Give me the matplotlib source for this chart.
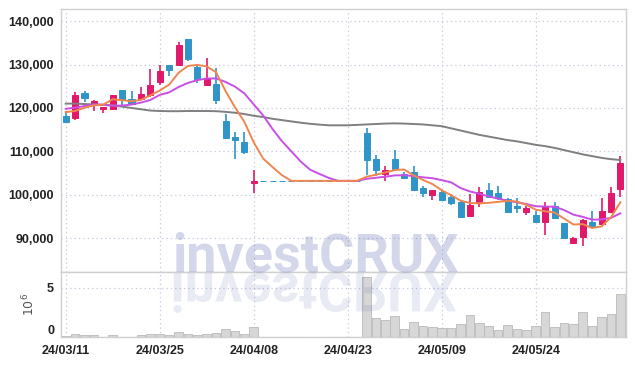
import numpy as np
import pandas as pd
import matplotlib
matplotlib.use("Agg")
import matplotlib.pyplot as plt
from matplotlib.textpath import TextPath
from matplotlib.patches import PathPatch
from matplotlib.font_manager import FontProperties
from matplotlib.transforms import Affine2D, IdentityTransform

# ---------------- data (KRW) ----------------
tick_pos = [0, 10, 20, 30, 40, 50]
tick_labels = ["24/03/11", "24/03/25", "24/04/08", "24/04/23", "24/05/09", "24/05/24"]

opens = [118100, 117600, 123500, 121100, 119800, 119800, 124100, 122100, 122100, 122900,
         126000, 129800, 129800, 135800, 129450, 125400, 125600, 117100, 113300, 112100,
         102700, 103200, 103200, 103200, 103200, 103200, 103200, 103200, 103200, 103200,
         103200, 103200, 114200, 108300, 104800, 108300, 104800, 105200, 101500, 100000,
         100600, 99400, 98300, 95200, 98300, 101000, 100450, 99050, 97500, 95960,
         95350, 93800, 97500, 93500, 88800, 90200, 93800, 93300, 96100, 101400]
highs = [119200, 123700, 123800, 121900, 120300, 123000, 124200, 123900, 124800, 128900,
         129800, 129900, 135300, 135900, 129900, 131400, 129200, 118700, 114400, 114500,
         105800, 103200, 103200, 103200, 103200, 103200, 103200, 103200, 103200, 103200,
         103200, 103200, 115400, 109050, 106700, 110400, 105300, 106700, 102000, 101200,
         101000, 100200, 98500, 100200, 101700, 102750, 102000, 99200, 99200, 97500,
         96350, 98300, 98300, 93600, 90200, 94400, 96350, 99200, 101700, 108900]
lows = [116600, 117200, 121400, 119400, 118800, 119700, 120400, 120900, 122000, 122600,
        125400, 127300, 129600, 130800, 125750, 125300, 121000, 113000, 108300, 109450,
        100400, 103200, 103200, 103200, 103200, 103200, 103200, 103200, 103200, 103200,
        103200, 103200, 104600, 104400, 103100, 105900, 103600, 101000, 99400, 98900,
        98600, 97700, 94700, 95000, 97100, 99300, 98800, 95800, 95800, 95350,
        93700, 90700, 94500, 89900, 88700, 88300, 92500, 93200, 96000, 99400]
closes = [116800, 122900, 122300, 121700, 120200, 122900, 121900, 121000, 123300, 125400,
          128450, 128700, 134600, 131200, 126600, 126800, 121900, 113050, 112500, 109800,
          103200, 103200, 103200, 103200, 103200, 103200, 103200, 103200, 103200, 103200,
          103200, 103200, 107900, 105600, 105800, 106000, 103800, 101100, 100400, 101100,
          98800, 98100, 94800, 97700, 100700, 99400, 99200, 95950, 96900, 97000,
          93800, 97300, 94600, 90000, 90050, 94200, 92900, 96350, 100450, 107400]
volumes_m = [0.10, 0.30, 0.20, 0.20, 0.05, 0.20, 0.05, 0.05, 0.20, 0.30,
             0.28, 0.20, 0.50, 0.30, 0.20, 0.30, 0.40, 0.78, 0.58, 0.32,
             0.98, 0, 0, 0, 0, 0, 0, 0, 0, 0,
             0, 0, 6.10, 1.90, 1.70, 2.10, 0.80, 1.58, 1.15, 0.97,
             0.96, 0.89, 1.31, 2.24, 1.39, 1.08, 0.69, 1.20, 0.80, 0.69,
             1.12, 2.50, 0.98, 1.39, 1.30, 2.50, 1.12, 2.00, 2.30, 4.35]
# closes before the first shown day (estimated from the MA lines)
prior_closes = [120400, 118500, 118000, 121000, 125000, 121600, 118600, 118900, 119300]
# long moving average (grey)
ma_long = [121000, 121000, 120900, 120800, 120700, 120600, 120300, 120000, 119700, 119400,
           119300, 119250, 119250, 119300, 119300, 119300, 119250, 119100, 118900, 118600,
           118200, 117900, 117500, 117200, 116900, 116600, 116350, 116150, 116000, 116000,
           116000, 116100, 116200, 116300, 116400, 116450, 116400, 116300, 116200, 116000,
           115800, 115300, 114800, 114300, 113800, 113400, 113000, 112600, 112300, 111900,
           111500, 111200, 110800, 110300, 109800, 109300, 108900, 108500, 108200, 108000]

# ---------------- styles ----------------
RED = "#e2196b"
BLUE = "#2f95c8"
GRID = "#c3c8de"
SPINE = "#cfcfcf"
TICKFONT = ["Liberation Sans", "DejaVu Sans"]

n = len(closes)
x = np.arange(n)
allc = pd.Series(prior_closes + closes, dtype=float)
ma5 = allc.rolling(5).mean().to_numpy()[len(prior_closes):]
ma10 = allc.rolling(10).mean().to_numpy()[len(prior_closes):]

fig = plt.figure(figsize=(6.35, 3.66), dpi=100)
L, R = 61 / 635, 626 / 635
ax = fig.add_axes([L, 1 - 272 / 366, R - L, (272 - 9) / 366])
axv = fig.add_axes([L, 1 - 337 / 366, R - L, (337 - 272) / 366], sharex=ax)

o = np.array(opens); c = np.array(closes); h = np.array(highs); lo = np.array(lows)
up = c > o
cols = np.where(up, RED, BLUE)
body_bot = np.minimum(o, c)
body_h = np.abs(c - o)

ax.vlines(x, lo, h, colors=cols, linewidth=1.2, zorder=2)
ax.bar(x, body_h, bottom=body_bot, width=0.64, color=cols, edgecolor=cols,
       linewidth=0.7, zorder=3)

ax.plot(x, ma_long, color="#7f7f7f", lw=1.4, zorder=4)
ax.plot(x, ma10, color="#c94fe6", lw=1.4, zorder=5)
ax.plot(x, ma5, color="#ee8650", lw=1.4, zorder=6)

ax.set_ylim(82200, 142800)
ax.set_xlim(-0.5, 59.6)
yt = [90000, 100000, 110000, 120000, 130000, 140000]
ax.set_yticks(yt)
ax.set_yticklabels([f"{v:,}" for v in yt])

vol = np.array(volumes_m)
axv.bar(x, vol, width=0.92, color="#d7d7d7", edgecolor="#b9b9b9", linewidth=0.6, zorder=2)
axv.set_ylim(0, 6.63)
axv.set_yticks([0, 5])
axv.set_yticklabels(["0", "5"])
axv.set_ylabel("$10^6$", fontsize=9, color="#555555", labelpad=7)

axv.set_xticks(tick_pos)
axv.set_xticklabels(tick_labels)
plt.setp(ax.get_xticklabels(), visible=False)

for a in (ax, axv):
    a.grid(True, linestyle=(0, (1, 2.5)), color=GRID, linewidth=0.9, zorder=0)
    a.set_axisbelow(True)
    for s in a.spines.values():
        s.set_color(SPINE)
        s.set_linewidth(1.0)
    a.tick_params(length=0, pad=5, labelcolor="#222222", labelsize=9)
    for t in a.get_yticklabels() + a.get_xticklabels():
        t.set_family(TICKFONT)
        t.set_fontweight("bold")
axv.tick_params(axis="x", pad=6)
axv.get_yticklabels()[0].set_verticalalignment("bottom")

# ---------------- watermark ----------------
wm_size_px = 54.0
fp = FontProperties(family=["Roboto", "DejaVu Sans"], weight="bold")
cx, base = 315, 366 - 272
fig.text(cx / 635, base / 366, "investCRUX", fontproperties=fp,
         fontsize=wm_size_px * 72 / 100, color="#3b4c9e", alpha=0.22,
         ha="center", va="baseline", zorder=10)
tp = TextPath((0, 0), "investCRUX", size=wm_size_px, prop=fp)
ext = tp.get_extents()
tr = Affine2D().translate(-(ext.x0 + ext.x1) / 2, 0).scale(1, -1).translate(cx, base - 1)
patch = PathPatch(tr.transform_path(tp), facecolor="#3b4c9e", edgecolor="none",
                  alpha=0.11, transform=IdentityTransform(), zorder=9)
fig.patches.append(patch)

fig.savefig("out.png", dpi=100)
